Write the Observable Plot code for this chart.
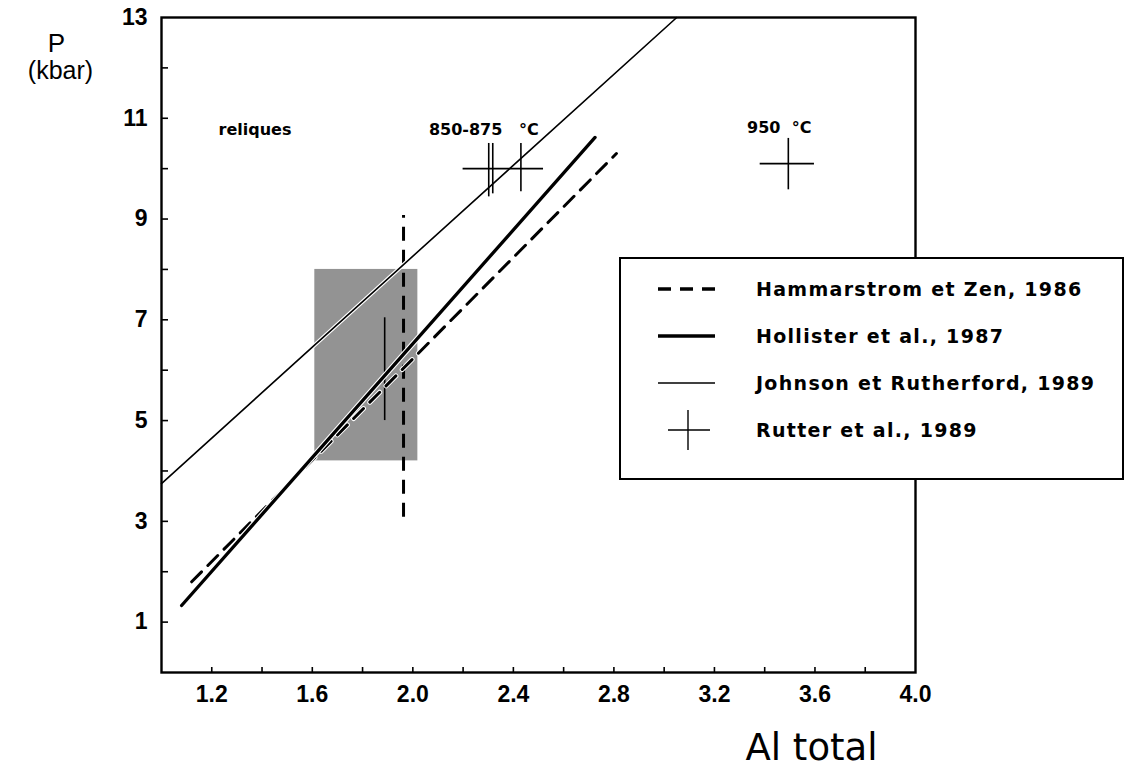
<!DOCTYPE html>
<html>
<head>
<meta charset="utf-8">
<script src="https://cdn.jsdelivr.net/npm/d3@7"></script>
<script src="https://cdn.jsdelivr.net/npm/@observablehq/plot@0.6"></script>
<style>
  html, body { margin: 0; padding: 0; background: #fff; }
  #wrap { position: relative; width: 1130px; height: 767px; overflow: hidden; }
  #legend { position: absolute; left: 619px; top: 257px; width: 501px; height: 219px;
            border: 2px solid #000; background: #fff; }
</style>
</head>
<body>
<div id="wrap"></div>
<script>
// ---- data ----
const xTickLabels = [1.2, 1.6, 2.0, 2.4, 2.8, 3.2, 3.6, 4.0];
const xTickMarks  = [1.2, 1.4, 1.6, 1.8, 2.0, 2.2, 2.4, 2.6, 2.8, 3.0, 3.2, 3.4, 3.6, 3.8];
const yTickLabels = [1, 3, 5, 7, 9, 11, 13];
const yTickMarks  = [1, 2, 3, 4, 5, 6, 7, 8, 9, 10, 11, 12];

const hammarstrom = [{al: 1.12, p: 1.8}, {al: 2.81, p: 10.3}];
const hollister   = [{al: 1.08, p: 1.33}, {al: 2.725, p: 10.62}];
const johnson     = [{al: 1.0, p: 3.75}, {al: 3.05, p: 13.0}];

const reliquesBox = [{al1: 1.61, al2: 2.02, p1: 4.2, p2: 8.0}];
const reliquesBar = [{al: 1.888, lo: 5.0, hi: 7.04}];
const limitDashed = [{al: 1.963, lo: 3.08, hi: 9.07}];

const rutterV = [
  {al: 2.302, lo: 9.44, hi: 10.5},
  {al: 2.318, lo: 9.5,  hi: 10.5},
  {al: 2.43,  lo: 9.54, hi: 10.5},
  {al: 3.494, lo: 9.58, hi: 10.6}
];
const rutterH = [
  {p: 10.0, lo: 2.20,  hi: 2.52},
  {p: 10.1, lo: 3.382, hi: 3.598}
];

const annotations = [
  {al: 1.227, p: 10.77, label: "reliques"},
  {al: 2.064, p: 10.77, label: "850-875\u00a0\u00a0\u00a0°C"},
  {al: 3.33,  p: 10.8,  label: "950\u00a0\u00a0°C"}
];

const legendLabels = [
  "Hammarstrom et Zen, 1986",
  "Hollister et al., 1987",
  "Johnson et Rutherford, 1989",
  "Rutter et al., 1989"
];

const xTitle = "Al total";
const yTitle1 = "P";
const yTitle2 = "(kbar)";

// ---- chart ----
const tickFont = "'Liberation Sans', Arial, sans-serif";
const mainFont = "'DejaVu Sans', sans-serif";

const plot = Plot.plot({
  width: 1130,
  height: 767,
  marginLeft: 161,
  marginRight: 215,
  marginTop: 17,
  marginBottom: 95,
  x: {domain: [1, 4]},
  y: {domain: [0, 13]},
  style: {fontFamily: mainFont, background: "#fff", overflow: "visible", color: "#000"},
  marks: [
    Plot.rect(reliquesBox, {x1: "al1", x2: "al2", y1: "p1", y2: "p2", fill: "#939393"}),
    Plot.ruleX(reliquesBar, {x: "al", y1: "lo", y2: "hi", stroke: "#000", strokeWidth: 1.6}),
    Plot.ruleX(limitDashed, {x: "al", y1: "lo", y2: "hi", stroke: "#000", strokeWidth: 3, strokeDasharray: "14,9"}),
    Plot.line(johnson, {x: "al", y: "p", stroke: "#fff", strokeWidth: 4}),
    Plot.line(johnson, {x: "al", y: "p", stroke: "#000", strokeWidth: 1.6}),
    Plot.line(hammarstrom, {x: "al", y: "p", stroke: "#fff", strokeWidth: 5, strokeDasharray: "14,9"}),
    Plot.line(hammarstrom, {x: "al", y: "p", stroke: "#000", strokeWidth: 3, strokeDasharray: "14,9"}),
    Plot.line(hollister, {x: "al", y: "p", stroke: "#fff", strokeWidth: 5.5}),
    Plot.line(hollister, {x: "al", y: "p", stroke: "#000", strokeWidth: 3.3}),
    Plot.ruleX(rutterV, {x: "al", y1: "lo", y2: "hi", stroke: "#000", strokeWidth: 1.6}),
    Plot.ruleY(rutterH, {y: "p", x1: "lo", x2: "hi", stroke: "#000", strokeWidth: 1.6}),
    Plot.text(annotations, {x: "al", y: "p", text: "label", textAnchor: "start",
      fontSize: 16, fontWeight: "bold", fontFamily: mainFont, fill: "#000"}),
    Plot.ruleX(xTickMarks, {x: d => d, y1: 0, y2: 0, insetTop: -5, stroke: "#000", strokeWidth: 1.6}),
    Plot.ruleY(yTickMarks, {y: d => d, x1: 1, x2: 1, insetRight: -7, stroke: "#000", strokeWidth: 1.6}),
    Plot.axisX({ticks: xTickLabels, tickSize: 0, tickPadding: 13, tickFormat: d3.format(".1f"),
      fontSize: 23, fontWeight: "bold", fontFamily: tickFont, label: null}),
    Plot.axisY({ticks: yTickLabels, tickSize: 0, tickPadding: 14, tickFormat: d3.format("d"),
      fontSize: 23, fontWeight: "bold", fontFamily: tickFont, label: null}),
    Plot.frame({stroke: "#000", strokeWidth: 2.4}),
    Plot.text([yTitle1], {frameAnchor: "top-left", lineAnchor: "top", dx: -105, dy: 16, fontSize: 26,
      fontFamily: tickFont, textAnchor: "middle", fill: "#000"}),
    Plot.text([yTitle2], {frameAnchor: "top-left", lineAnchor: "top", dx: -101, dy: 44, fontSize: 25,
      fontFamily: tickFont, textAnchor: "middle", fill: "#000"}),
    Plot.text([xTitle], {frameAnchor: "bottom-left", lineAnchor: "bottom", dx: 650, dy: 87, fontSize: 37,
      fontFamily: mainFont, textAnchor: "middle", fill: "#000"})
  ]
});

const wrap = document.getElementById("wrap");
wrap.appendChild(plot);

// ---- legend (HTML overlay box with SVG samples) ----
const legend = document.createElement("div");
legend.id = "legend";
wrap.appendChild(legend);
const ls = d3.select(legend).append("svg").attr("width", 501).attr("height", 219)
  .style("position", "absolute").style("left", "0px").style("top", "0px");
const rowY = [30, 77, 124, 171];
const sx1 = 37, sx2 = 94;
legendLabels.forEach((lab, i) => {
  const y = rowY[i];
  if (i === 0) {
    ls.append("line").attr("x1", sx1).attr("x2", sx2).attr("y1", y).attr("y2", y)
      .attr("stroke", "#000").attr("stroke-width", 3.5).attr("stroke-dasharray", "13,9");
  } else if (i === 1) {
    ls.append("line").attr("x1", sx1).attr("x2", sx2).attr("y1", y).attr("y2", y)
      .attr("stroke", "#000").attr("stroke-width", 3.3);
  } else if (i === 2) {
    ls.append("line").attr("x1", sx1).attr("x2", sx2).attr("y1", y).attr("y2", y)
      .attr("stroke", "#000").attr("stroke-width", 1.6);
  } else {
    ls.append("line").attr("x1", 47).attr("x2", 89).attr("y1", y).attr("y2", y)
      .attr("stroke", "#000").attr("stroke-width", 1.4);
    ls.append("line").attr("x1", 67).attr("x2", 67).attr("y1", y - 20).attr("y2", y + 20)
      .attr("stroke", "#000").attr("stroke-width", 1.4);
  }
  ls.append("text").attr("x", 135).attr("y", y).attr("dy", "0.36em")
    .attr("font-family", mainFont).attr("font-weight", "bold").attr("font-size", 19)
    .attr("letter-spacing", "1.3px").attr("fill", "#000").text(lab);
});
</script>
</body>
</html>
